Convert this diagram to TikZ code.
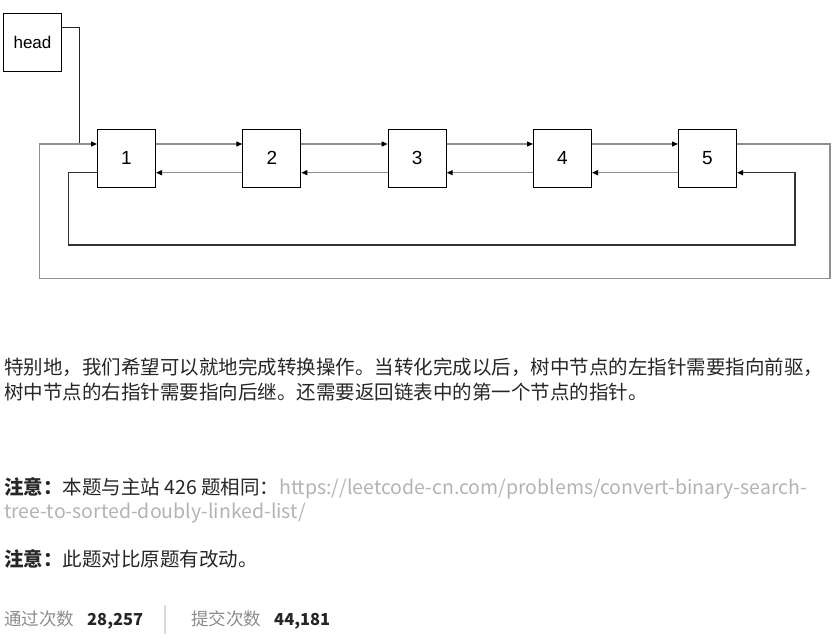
\documentclass[tikz,border=0pt]{standalone}
\usepackage{fontspec}
\setmainfont{Liberation Sans}
\newfontfamily\cjk{Noto Sans CJK SC}
\newfontfamily\numfont[Numbers=Proportional]{Noto Sans CJK SC}
\usetikzlibrary{arrows.meta}
\definecolor{txt}{HTML}{262626}
\definecolor{urlc}{HTML}{B3B3B3}
\definecolor{lblc}{HTML}{8C8C8C}
\definecolor{sepc}{HTML}{D9D9D9}
\definecolor{linec}{HTML}{8F8F8F}
\tikzset{
  box/.style={draw=black, line width=1bp, minimum width=58bp, minimum height=58bp, inner sep=0pt, font=\fontsize{19bp}{22bp}\selectfont},
  headbox/.style={draw=black, line width=1bp, minimum width=58bp, minimum height=58bp, inner sep=0pt, font=\fontsize{17bp}{20bp}\selectfont},
  arr/.style={draw=linec, line width=1.2bp, -{Triangle[length=6bp,width=5bp,color=black]}},
  darkarr/.style={draw=black!80, line width=1.2bp, -{Triangle[length=6bp,width=5bp,color=black]}},
  darkwire/.style={draw=black!85, line width=1.2bp},
  para/.style={anchor=base west, inner sep=0pt, text=txt, font=\cjk\fontsize{19.5bp}{24bp}\selectfont},
  urltxt/.style={anchor=base west, inner sep=0pt, text=urlc, font=\cjk\fontsize{19.5bp}{24bp}\selectfont},
  stat/.style={anchor=base west, inner sep=0pt, text=lblc, font=\cjk\fontsize{17.5bp}{20bp}\selectfont},
  statnum/.style={anchor=base west, inner sep=0pt, text=txt, font=\numfont\bfseries\fontsize{16.5bp}{20bp}\selectfont},
}
\begin{document}
\begin{tikzpicture}[x=1bp,y=-1bp]
\useasboundingbox (0,0) rectangle (835,642);
% nodes
\node[headbox] (head) at (32.5,42.5) {head};
\node[box] (n1) at (126.5,158.3) {1};
\node[box] (n2) at (271.8,158.3) {2};
\node[box] (n3) at (417.2,158.3) {3};
\node[box] (n4) at (562.5,158.3) {4};
\node[box] (n5) at (707.5,158.3) {5};
% helper coordinates
\coordinate (ftop) at (0,144);
\coordinate (fbot) at (0,172.7);
\coordinate (hy) at (0,27.7);
\coordinate (hx) at (79.3,144);
\coordinate (oleft) at (39.7,278.3);
\coordinate (oright) at (830,278.3);
\coordinate (ileft) at (68.3,245);
\coordinate (iright) at (795,245);
% forward / backward arrows
\foreach \a/\b in {n1/n2,n2/n3,n3/n4,n4/n5}{
  \draw[arr] (\a.east |- ftop) -- (\b.west |- ftop);
  \draw[arr] (\b.west |- fbot) -- (\a.east |- fbot);
}
% head pointer
\draw[darkwire] (head.east |- hy) -| (hx);
% outer loop: 5 -> 1
\draw[arr] (n5.east |- ftop) -| (oright) -- (oleft) |- (n1.west |- ftop);
% inner loop: 1 -> 5
\draw[darkarr] (n1.west |- fbot) -| (ileft) -- (iright) |- (n5.east |- fbot);
% text
\node[para] (p1) at (4,374.5) {特别地，我们希望可以就地完成转换操作。当转化完成以后，树中节点的左指针需要指向前驱，};
\node[para] (p2) at (4,399.5) {树中节点的右指针需要指向后继。还需要返回链表中的第一个节点的指针。};
\node[para] (p3) at (4,494) {{\bfseries 注意：}本题与主站 426 题相同：};
\node[urltxt] (u1) at (279,494) {https://leetcode-cn.com/problems/convert-binary-search-};
\node[urltxt] (u2) at (4,518.5) {tree-to-sorted-doubly-linked-list/};
\node[para] (p4) at (4,566) {{\bfseries 注意：}此题对比原题有改动。};
\node[stat] (s1) at (4,625.5) {通过次数};
\node[statnum] (s2) at (87,625.5) {28,257};
\draw[draw=sepc, line width=1.2bp] (165,605) coordinate (sa) -- (165,634) coordinate (sb);
\node[stat] (s3) at (191,625.5) {提交次数};
\node[statnum] (s4) at (274,625.5) {44,181};
\end{tikzpicture}
\end{document}
